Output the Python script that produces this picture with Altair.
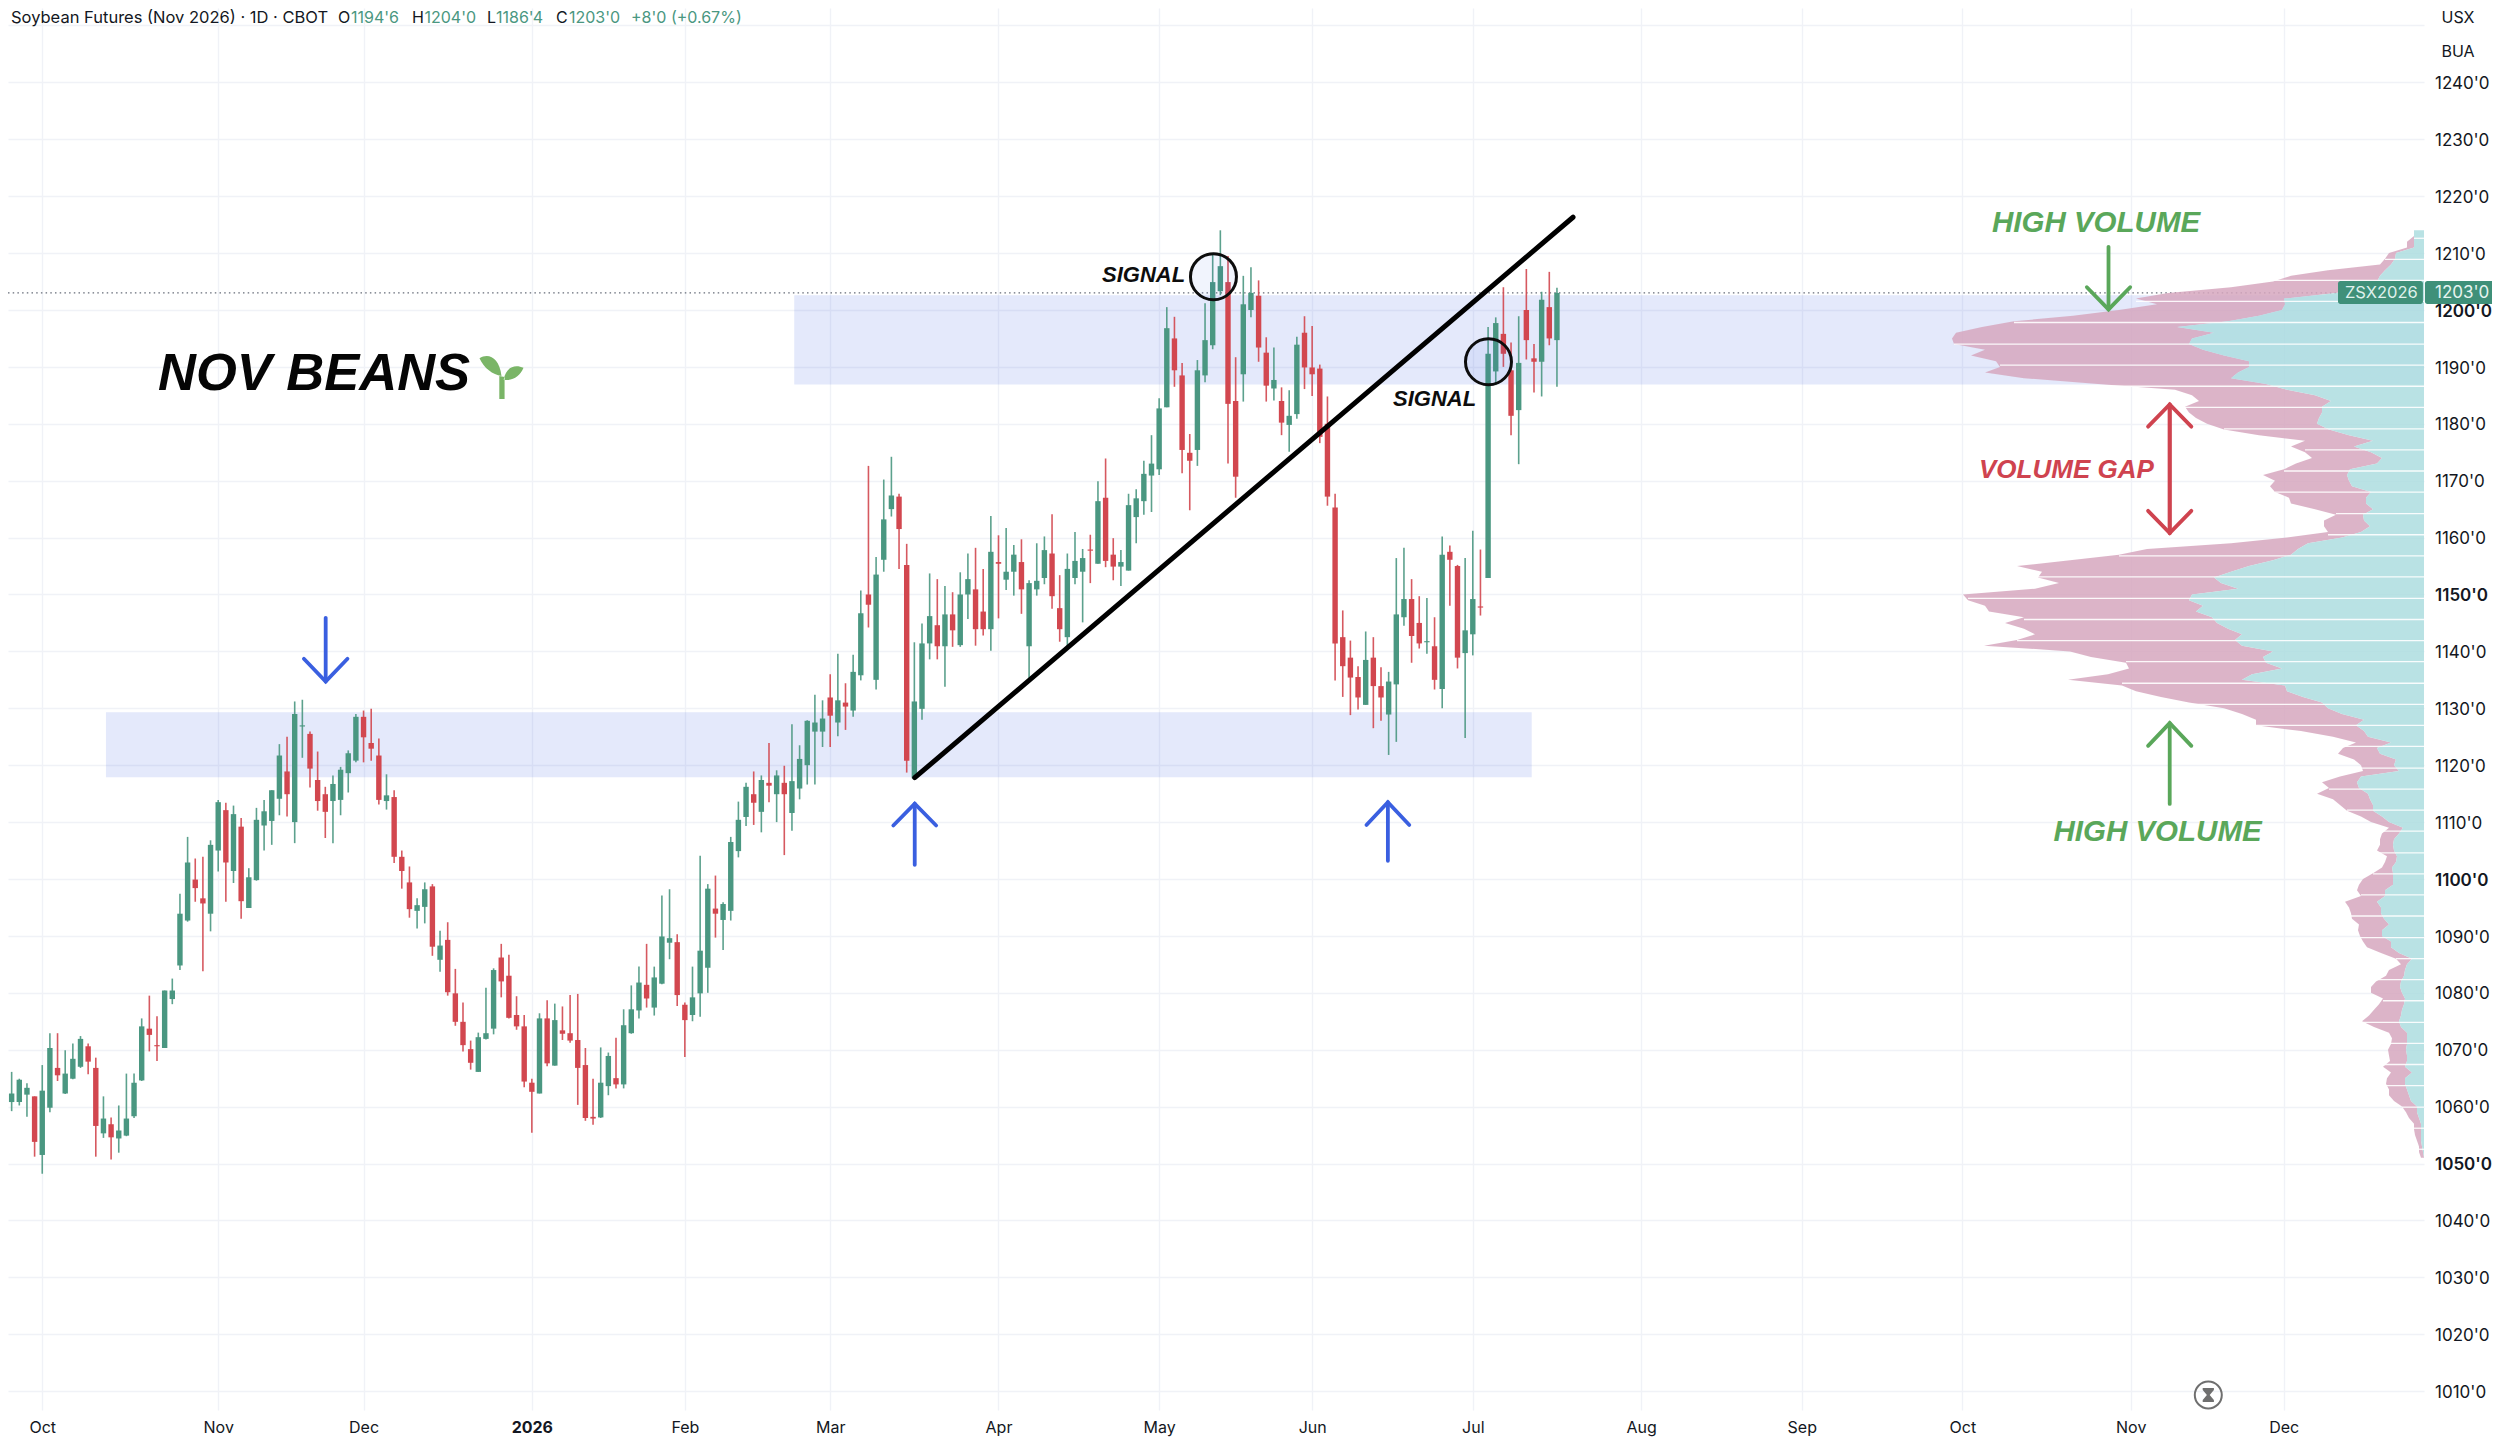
import altair as alt
import pandas as pd

# ---- daily candles (price in cents/bu) --------------------------------------
opens = [1062.1,1060.8,1060.8,1062.1,1061.8,1051.5,1059.8,1066.8,1062.3,1064.9,
1067,1070.6,1066.8,1055.3,1056.9,1054.4,1054.9,1058.3,1064.6,1073.7,
1070.8,1070.3,1078.9,1084.8,1092.7,1099.9,1096.6,1093.9,1105,1112.1,
1101.4,1109.2,1094.9,1099.8,1109.4,1110.2,1114.1,1118.9,1110,1126.8,
1125.5,1117.4,1114.9,1113.7,1113.9,1118.6,1120.8,1128.5,1123.9,1121.7,
1113.7,1114.4,1103.9,1099.4,1094.4,1095.1,1098.7,1085.8,1089.3,1079.9,
1074.9,1070.1,1066.1,1071.9,1073.7,1086.2,1083,1076.1,1074.1,1064.2,
1062.3,1075.5,1067.2,1073.4,1072.9,1071.7,1067.3,1058.2,1058.1,1063.6,
1065,1063.9,1072.9,1076.9,1081.4,1077.4,1081.6,1088.8,1088.9,1077.9,
1076.1,1079.9,1084.4,1094.8,1092.8,1094.4,1104.9,1110.9,1114.9,1111.8,
1116.9,1114.9,1116.9,1111.6,1115.9,1120,1125.9,1125.9,1131.9,1127.5,
1131,1129.6,1135.8,1150,1135,1156.1,1165,1167.2,1155.2,1117.7,
1129.9,1141.4,1144.6,1140.9,1146.5,1141.1,1150,1150.9,1147,1143.9,
1155.7,1152.6,1154,1155.7,1140.9,1150.9,1152.9,1157.2,1147.6,1142.5,
1152.9,1154,1157.9,1155.4,1167,1157,1154.9,1154.2,1163.6,1166.4,
1170.9,1172,1182.9,1195,1188.5,1174.9,1175.4,1188.5,1193.8,1203.3,
1204.9,1184,1188.7,1200,1202.5,1192.5,1186.2,1184,1179.8,1181.7,
1196,1189.9,1189.7,1180,1165.3,1142.5,1138.9,1135.5,1130.6,1138.9,
1133.9,1128.9,1134.2,1146,1149.2,1145,1141.6,1140.9,1133.4,1157.5,
1155,1139.7,1143,1147.9,1152.9,1189.2,1195.8,1189.4,1182.4,1200,
1191.5,1190.9,1200.5,1194.7]
highs = [1069.7,1066.1,1064.9,1064.1,1061.8,1067.3,1072.9,1072.9,1069.9,1071.1,
1072.4,1071.1,1068.6,1061.8,1058.1,1060.2,1065.8,1065.8,1075.5,1079.5,
1075.9,1080.4,1082.5,1097.4,1107.4,1103.6,1103.9,1106.8,1113.9,1113.4,
1112.9,1110.7,1101.9,1112.5,1113.9,1115.6,1123.7,1125,1131.2,1131.5,
1125.9,1122.4,1116.2,1118.2,1119.7,1122.6,1129,1129.6,1129.9,1124.7,
1118.4,1115.6,1105,1102.2,1096.6,1099.4,1099.1,1090.9,1092.4,1084.2,
1078.3,1071.6,1073,1080.9,1084.3,1088.6,1086.7,1079.4,1076.1,1064.9,
1076.4,1078.7,1078.1,1077.6,1079.6,1079.8,1070.3,1064.9,1070.4,1069.5,
1072.1,1077.1,1081.3,1084.6,1088.6,1084.6,1097.1,1098.2,1090.3,1078.3,
1084.6,1104.1,1099.1,1100.6,1095.9,1107.4,1113.6,1116.9,1118.9,1118.2,
1123.9,1119.1,1119.9,1127.2,1123.5,1127.9,1132.4,1131.4,1136,1139.6,
1134.4,1139.4,1150.7,1172.6,1156.6,1170.2,1174.2,1167.7,1158.9,1141.6,
1144.9,1153.7,1152.7,1151.5,1150.4,1153.9,1157.2,1158.2,1154.5,1163.8,
1160.4,1161.7,1158.7,1159.7,1152.5,1159,1160.2,1164.1,1153.4,1157.2,
1161,1158,1160.5,1169.9,1173.9,1159.9,1157.8,1167.7,1168.5,1173.5,
1178,1184.5,1200.5,1198.8,1190.7,1178.2,1191.2,1201.2,1210,1214,
1209.5,1191.7,1206,1207.5,1205.2,1195.2,1193.4,1186.4,1185.9,1195.3,
1198.9,1197.2,1190.4,1184.8,1167.7,1147.2,1141.9,1137.4,1143.5,1142.5,
1137.2,1136.4,1156.4,1158.2,1152.7,1149.7,1149.4,1146,1160.2,1158.6,
1155.2,1156.4,1161.2,1157.9,1197,1198.7,1204,1194.3,1198.9,1207.2,
1194,1203.2,1206.7,1203.9]
lows = [1058.4,1059.2,1060.2,1058.2,1051.2,1048.2,1059,1064.5,1062.2,1064.8,
1066.8,1065.7,1051.2,1054.5,1050.7,1051.9,1054.8,1058,1064.5,1069.7,
1068,1070.3,1078,1084,1092.5,1096,1083.8,1090.8,1101.3,1096,
1099.3,1093,1094.9,1099.7,1105,1106,1111.2,1111,1106.3,1121.3,
1116.1,1112,1107.2,1106.3,1111.2,1115.2,1120.5,1120.5,1120.8,1113.1,
1112.2,1102.8,1098.3,1093.2,1091.3,1092.2,1086.5,1083.7,1079.5,1074.2,
1069.7,1066.5,1066.1,1071.8,1072.7,1079.2,1075.5,1073.5,1063.4,1055.4,
1062.3,1067.1,1067.2,1071.7,1071.2,1060.3,1057.5,1056.8,1058,1062,
1063.2,1063.2,1072.8,1075.5,1077.4,1076,1081.5,1085.9,1077.7,1068.7,
1075,1075.8,1080,1089.7,1087.5,1092.7,1103.8,1109.3,1109.5,1108.2,
1113.5,1110,1104.2,1108.5,1114,1116.6,1116.6,1123.2,1123.2,1125.1,
1126.2,1128.5,1134.9,1144.2,1133.3,1154,1163.7,1154.5,1118.7,1117.7,
1128,1138.6,1138.6,1133.8,1140.8,1140.8,1145.7,1141,1142.8,1140.1,
1145.8,1150.8,1149.8,1146.6,1135.1,1149.8,1151.8,1147.5,1141.7,1140.8,
1151.8,1145.1,1152,1155.4,1154.8,1152.5,1151.5,1154.2,1159,1164,
1164.5,1171,1182.9,1186.5,1171.3,1164.8,1172.6,1187.3,1193.1,1202.6,
1173,1167,1183.9,1198.7,1190.9,1183.9,1184.1,1178,1175.1,1180.9,
1186.1,1184.9,1176.6,1165.6,1134.9,1132,1128.8,1129.8,1130.6,1126.5,
1127.8,1121.8,1124.1,1144.5,1138,1140.5,1139.6,1133.3,1130,1148,
1137,1124.8,1139.3,1146.3,1152.9,1186.8,1190,1178,1172.9,1191.3,
1185.5,1184.8,1193.8,1186.5]
closes = [1061.5,1062.3,1064.7,1063.3,1053.8,1062.8,1070.3,1065.5,1065.8,1068.4,
1071.9,1067.9,1056.6,1057.9,1054.6,1055.8,1057.9,1064.2,1074.1,1072.6,
1070.6,1080.4,1080.4,1093.9,1102.9,1098.4,1095.7,1106,1113.5,1102.9,
1111.4,1096.1,1100.3,1110.4,1111.9,1115.6,1121.7,1114.9,1129,1127,
1119.4,1113.7,1111.8,1116.7,1119.2,1122.1,1128.5,1124.9,1122.9,1113.9,
1114.7,1103.9,1101.4,1094.7,1095.4,1098.2,1088.1,1088.3,1080.1,1074.9,
1070.8,1067.7,1072.2,1072.9,1084,1082,1075.6,1074.1,1064.4,1062.6,
1075.5,1067.6,1075.2,1072.8,1071.6,1066.8,1058,1057.9,1064.2,1068.9,
1063.9,1074.3,1077.1,1081.8,1079,1082.7,1089.9,1089.6,1079.6,1075.2,
1079.2,1087.4,1098.3,1093.9,1095.6,1106.5,1110.4,1116.2,1113.4,1117.4,
1116.4,1118.2,1114.9,1117.2,1121.1,1127.8,1127.5,1128.2,1128.7,1131.4,
1130.3,1136.4,1146.7,1148.2,1153.5,1163.2,1167.4,1161.5,1120.8,1131.2,
1141.4,1146.2,1140.9,1146.5,1143.7,1150,1152.7,1143.9,1143.9,1157.5,
1155.4,1154,1157,1150.9,1152,1152.4,1157.8,1149.7,1143.9,1154.5,
1155.9,1156.4,1157.7,1166.4,1155.9,1154.9,1155.7,1165.7,1166.9,1171.2,
1173,1182.7,1196.8,1189.4,1175.4,1173.5,1189.4,1194.7,1204.9,1207.7,
1183.5,1170.7,1201,1203,1193.4,1186.7,1187.7,1180.2,1181.4,1193.9,
1189.9,1188.7,1177.7,1167.2,1141.4,1137.4,1135.4,1131.9,1138.5,1133.9,
1131.9,1134.7,1146.5,1149.2,1142.7,1141.4,1141.8,1135,1157,1156.1,
1138.9,1143.7,1149.2,1147.7,1192.3,1197.7,1192.3,1181.4,1190.7,1194.7,
1190.9,1201.8,1195,1203]

# ---- volume profile, one row per price from 1214 down to 1051 ---------------
profile_prices = list(range(1214, 1050, -1))
profile_total = [10,10,17,17,35,39,44,96,133,151,
193,256,288,267,305,351,410,442,468,472,
470,439,453,428,424,439,400,326,249,232,
225,239,235,228,217,200,165,119,133,119,
112,128,140,161,149,154,149,135,133,109,
88,100,100,96,137,193,277,305,354,407,
382,386,365,389,461,456,439,435,400,419,
400,389,407,440,354,333,298,295,316,356,
302,288,263,235,200,182,168,168,123,91,
68,81,86,70,63,61,84,102,95,107,
91,84,77,63,53,35,42,44,44,47,
37,39,42,51,61,65,67,63,79,75,
73,72,65,66,64,61,57,43,28,23,
35,38,48,53,53,41,45,50,55,62,
50,35,32,33,36,35,34,41,33,37,
38,35,35,30,22,18,15,10,10,9,
7,5,5,3]
profile_up = [10,10,10,10,28,29,33,39,44,47,
53,88,140,139,142,165,196,247,210,232,
235,221,200,175,175,186,193,158,137,109,
93,102,102,105,107,95,75,51,70,53,
42,47,74,77,75,72,53,58,58,51,
61,60,54,63,82,116,126,133,151,175,
193,210,203,186,232,235,221,228,212,207,
196,182,189,182,151,161,158,142,172,182,
139,137,121,102,96,82,60,68,60,56,
33,47,44,28,30,25,63,67,65,56,
54,51,51,42,35,21,25,30,31,30,
27,28,32,31,31,31,39,39,47,43,
43,40,35,42,42,33,33,25,12,17,
19,20,23,24,22,19,20,22,23,25,
23,17,17,17,18,17,17,19,12,19,
19,17,15,13,7,7,5,3,3,3,
3,2,1,0]
profile_breaks = [1052.5,1056.2,1059.9,1063.7,1067.4,1071.1,1074.8,1078.6,1082.3,1086,1089.7,
1093.5,1097.2,1100.9,1104.6,1108.4,1112.1,1115.8,1119.5,1123.3,1127,1130.7,1134.4,1138.2,
1141.9,1145.6,1149.3,1153.1,1156.8,1160.5,1164.2,1168,1171.7,1175.4,1179.1,1182.9,1186.6,
1190.3,1194,1197.8,1201.5,1205.2,1208.9,1212.6]

# ---- axis labels ------------------------------------------------------------
month_bars = [5, 28, 47, 69, 89, 108, 130, 151, 171, 192, 214, 235, 256, 278, 298]
month_names = ["Oct","Nov","Dec","2026","Feb","Mar","Apr","May","Jun","Jul","Aug","Sep","Oct","Nov","Dec"]
price_ticks = [1010,1020,1030,1040,1050,1060,1070,1080,1090,1100,1110,1120,1130,1140,1150,1160,
               1170,1180,1190,1200,1210,1220,1230,1240,1250]
bold_prices = [1050, 1100, 1150, 1200]

# ---- annotations, in bar index / price ---------------------------------------
zones = [{"x": 13.33, "x2": 199.7, "lo": 1117.9, "hi": 1129.3},
         {"x": 103.3, "x2": 316.34, "lo": 1186.9, "hi": 1202.6}]
trend_x = [119.05, 205.1]
trend_p = [1117.8, 1216.3]
signal_x = [158.1, 194.05]
signal_p = [1205.85, 1190.9]
last_close = 1203
# (colour, bar, tip, tail, price where the head's barbs end, half width in bars)
arrows = [("#3a5fe0", 42.05, 1134.7, 1145.9, 1138.7, 2.85),
          ("#3a5fe0", 119.05, 1113.25, 1102.5, 1109.4, 2.8),
          ("#3a5fe0", 180.9, 1113.5, 1103.2, 1109.5, 2.8),
          ("#5aa75a", 275.1, 1200.1, 1211.1, 1204.0, 2.83),
          ("#cf434f", 283.1, 1183.4, 1160.8, 1179.5, 2.83),
          ("#cf434f", 283.1, 1160.8, 1183.4, 1164.7, 2.83),
          ("#5aa75a", 283.1, 1127.4, 1113.2, 1123.4, 2.83)]

GREEN, RED = "#4a9781", "#d2474f"
INK = "#131722"
RIGHT_EDGE = 316.34
BAR_PX = 7.65

assert len(opens) == len(highs) == len(lows) == len(closes) == 204
assert len(profile_prices) == len(profile_total) == len(profile_up) == 164

candles = pd.DataFrame({"bar": range(204), "o": opens, "h": highs, "l": lows, "c": closes})
candles["side"] = ["up" if c >= o else "down" for o, c in zip(opens, closes)]

profile = pd.DataFrame({"price": profile_prices, "total": profile_total, "up": profile_up})
profile["x_total"] = RIGHT_EDGE - profile["total"] / BAR_PX
profile["x_up"] = RIGHT_EDGE - profile["up"] / BAR_PX
profile["x_end"] = RIGHT_EDGE

breaks = pd.DataFrame({"price": profile_breaks})
breaks["x"] = [RIGHT_EDGE - profile_total[min(range(164), key=lambda k: abs(profile_prices[k] - b))] / BAR_PX
               for b in profile_breaks]
breaks["x2"] = RIGHT_EDGE

x_scale = alt.Scale(domain=[0.523, RIGHT_EDGE], nice=False, zero=False, padding=0)
y_scale = alt.Scale(domain=[1006.68, 1253.07], nice=False, zero=False, padding=0)

label_map = ",".join(f"'{b}':'{n}'" for b, n in zip(month_bars, month_names))
x_axis = alt.Axis(values=month_bars, title=None, grid=True, gridColor="#f0f2f7", gridWidth=1.4,
                  domain=False, ticks=False, labelPadding=9.5, labelFontSize=16, labelColor=INK,
                  labelFont="Inter", labelOverlap=False, labelFlush=False,
                  labelExpr="{" + label_map + "}['' + datum.value]",
                  labelFontWeight=alt.expr("datum.value == 69 ? 700 : 400"))
y_axis = alt.Axis(values=price_ticks, title=None, orient="right", grid=True, gridColor="#f0f2f7",
                  gridWidth=1.4, domain=False, ticks=False, labelPadding=10.5, labelOffset=1.2, labelFontSize=17,
                  labelColor=INK, labelFont="Inter", labelAlign="left", labelOverlap=False,
                  labelExpr="datum.value > 1245 ? '' : datum.value + \"'0\"",
                  labelFontWeight=alt.expr("indexof([" + ",".join(map(str, bold_prices)) + "], datum.value) >= 0 ? 600 : 400"))


def X(field):
    return alt.X(field, type="quantitative", scale=x_scale, axis=x_axis)


def Y(field):
    return alt.Y(field, type="quantitative", scale=y_scale, axis=y_axis)


def text(t, px, py, size, color=INK, weight=400, italic=False, align="left", font="Inter"):
    return alt.Chart(alt.Data(values=[{"t": t}])).mark_text(
        font=font, fontSize=size, color=color, fontWeight=weight,
        fontStyle="italic" if italic else "normal", align=align, baseline="middle"
    ).encode(x=alt.value(px - 8), y=alt.value(py - 8), text=alt.Text("t:N"))


layers = []

# demand / supply zones
zones_df = pd.DataFrame(zones)
layers.append(alt.Chart(zones_df).mark_rect(color="#3f66e0", opacity=0.14).encode(
    x=X("x"), x2="x2:Q", y=Y("lo"), y2="hi:Q"))

# price line
layers.append(alt.Chart(pd.DataFrame({"p": [last_close]})).mark_rule(
    color="#666c78", strokeWidth=1.1, strokeDash=[1.5, 3.2]).encode(y=Y("p"), x=alt.value(0), x2=alt.value(2416)))

# volume profile
layers.append(alt.Chart(profile).mark_area(color="#d6a7be", opacity=0.85, interpolate="linear", orient="horizontal").encode(
    y=Y("price"), x=X("x_total"), x2="x_up:Q"))
layers.append(alt.Chart(profile).mark_area(color="#addddf", opacity=0.85, interpolate="linear", orient="horizontal").encode(
    y=Y("price"), x=X("x_up"), x2="x_end:Q"))
layers.append(alt.Chart(breaks).mark_rule(color="#ffffff", strokeWidth=1.3, opacity=0.9).encode(
    y=Y("price"), x=X("x"), x2="x2:Q"))

# candles
side_color = alt.Color("side:N", scale=alt.Scale(domain=["up", "down"], range=[GREEN, RED]), legend=None)
layers.append(alt.Chart(candles).mark_rule(strokeWidth=1.6, opacity=0.9).encode(
    x=X("bar"), y=Y("l"), y2="h:Q", color=side_color))
layers.append(alt.Chart(candles).mark_bar(size=5.4).encode(
    x=X("bar"), y=Y("o"), y2="c:Q", color=side_color))

# trend line
trend = pd.DataFrame({"x": trend_x, "p": trend_p})
layers.append(alt.Chart(trend).mark_line(color="#000000", strokeWidth=5, strokeCap="round").encode(x=X("x"), y=Y("p")))

# signal circles
signals = pd.DataFrame({"x": signal_x, "p": signal_p})
layers.append(alt.Chart(signals).mark_point(shape="circle", size=2116, filled=False, fill="#3f66e0", fillOpacity=0.07,
                                            stroke="#0d0d0d", strokeWidth=3).encode(x=X("x"), y=Y("p")))

# arrows
for color in ["#3a5fe0", "#5aa75a", "#cf434f"]:
    rows = []
    for n, (c, bar, tip, tail, base, half) in enumerate(arrows):
        if c != color:
            continue
        rows += [{"g": f"s{n}", "k": 0, "x": bar, "p": tail}, {"g": f"s{n}", "k": 1, "x": bar, "p": tip},
                 {"g": f"h{n}", "k": 0, "x": bar - half, "p": base}, {"g": f"h{n}", "k": 1, "x": bar, "p": tip},
                 {"g": f"h{n}", "k": 2, "x": bar + half, "p": base}]
    layers.append(alt.Chart(pd.DataFrame(rows)).mark_line(
        color=color, strokeWidth=3.8, strokeCap="round", strokeJoin="miter").encode(
        x=X("x"), y=Y("p"), detail="g:N", order="k:Q"))

# last-price tag
tags = pd.DataFrame({"x": [305.1, 316.46], "x2": [316.2, 326.0], "lo": [1201.05, 1201.05], "hi": [1205.1, 1205.1]})
layers.append(alt.Chart(tags).mark_rect(color="#3f9079", cornerRadius=2.5).encode(
    x=X("x"), x2="x2:Q", y=Y("lo"), y2="hi:Q"))

# texts
SANS = "Liberation Sans"
layers += [
    text("Soybean Futures (Nov 2026) · 1D · CBOT", 11, 18, 16.5),
    text("O", 338, 18, 16), text("1194'6", 351, 18, 16, GREEN),
    text("H", 412, 18, 16), text("1204'0", 424.5, 18, 16, GREEN),
    text("L", 487, 18, 16), text("1186'4", 496, 18, 16, GREEN),
    text("C", 556, 18, 16), text("1203'0", 569, 18, 16, GREEN),
    text("+8'0 (+0.67%)", 631, 18, 16, GREEN),
    text("USX", 2458, 18, 16, align="center"),
    text("BUA", 2458, 52, 16, align="center"),
    text("ZSX2026", 2381.4, 293, 16.5, "#dff1ec", align="center"),
    text("1203'0", 2435, 293, 17, "#e6f4f0"),
    text("NOV BEANS", 158, 374, 52.5, "#050505", 700, True, font=SANS),
    text("SIGNAL", 1102, 275, 22, "#0d0d0d", 700, True, font=SANS),
    text("SIGNAL", 1393, 399, 22, "#0d0d0d", 700, True, font=SANS),
    text("HIGH VOLUME", 1992, 223, 29.5, "#5aa75a", 700, True, font=SANS),
    text("HIGH VOLUME", 2053.5, 832, 29.5, "#5aa75a", 700, True, font=SANS),
    text("VOLUME GAP", 1979, 470, 26, "#cf434f", 700, True, font=SANS),
]

# sprout and hourglass glyphs
SPROUT = ("M-1,-0.85 C-0.6,-1.1 -0.1,-0.9 0,-0.05 C-0.4,-0.1 -0.8,-0.4 -1,-0.85 Z "
          "M1,-0.42 C0.6,-0.6 0.2,-0.45 0.1,0.12 C0.5,0.2 0.85,-0.05 1,-0.42 Z "
          "M-0.1,-0.05 L0.14,0 L0.14,1 L-0.1,1 Z")
GLASS = "M-0.8,-1 L0.8,-1 L0.8,-0.7 L0.2,0 L0.8,0.7 L0.8,1 L-0.8,1 L-0.8,0.7 L-0.2,0 L-0.8,-0.7 Z"
one = alt.Data(values=[{"k": 1}])
layers.append(alt.Chart(one).mark_point(shape=SPROUT, size=1936, filled=True, color="#7ab567", opacity=1).encode(
    x=alt.value(501.5 - 8), y=alt.value(377 - 8)))
layers.append(alt.Chart(one).mark_point(shape="circle", size=729, filled=False, stroke="#6f6f6f", strokeWidth=2, opacity=1).encode(
    x=alt.value(2208.3 - 8), y=alt.value(1395 - 8)))
layers.append(alt.Chart(one).mark_point(shape=GLASS, size=196, filled=True, color="#6f6f6f", opacity=1).encode(
    x=alt.value(2208.3 - 8), y=alt.value(1395 - 8)))

chart = alt.layer(*layers).properties(
    width=2416, height=1402,
    padding={"left": 0, "right": 68, "top": 0, "bottom": 29},
    autosize=alt.AutoSizeParams(type="none"),
    background="#ffffff",
).configure_view(stroke=None)

chart.save("out.html", embed_options={"renderer": "svg", "actions": False})
